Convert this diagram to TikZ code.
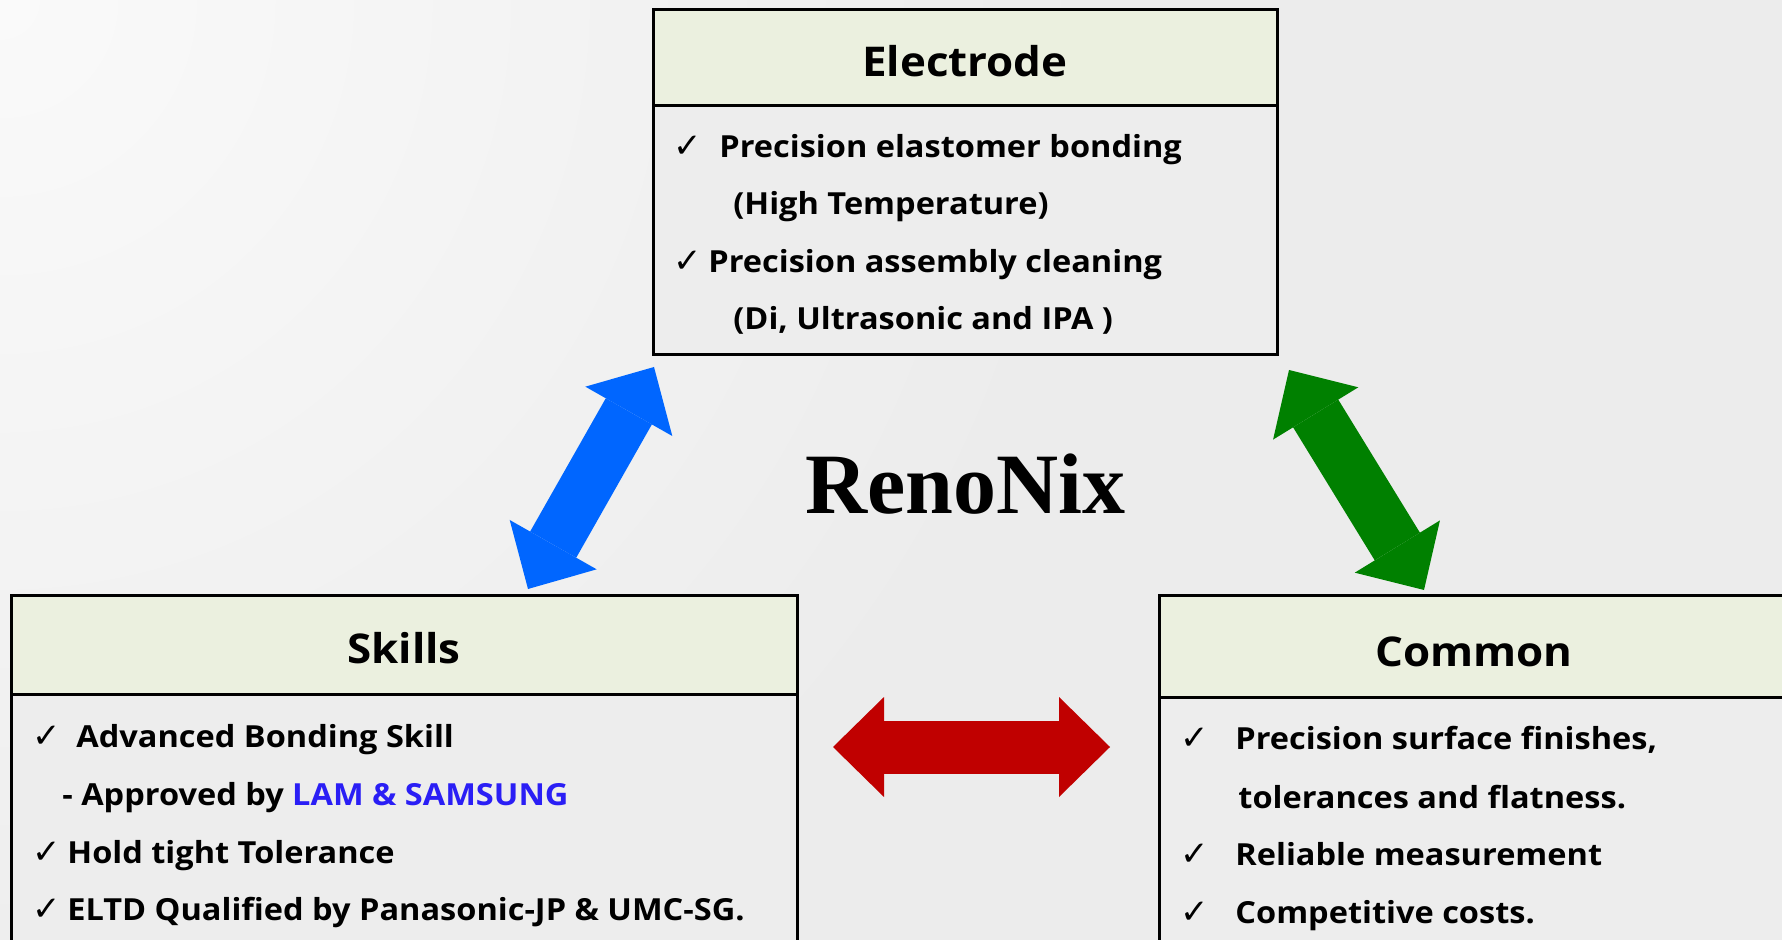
\documentclass[tikz,border=0pt]{standalone}
\usepackage{fontspec}
\setmainfont{Open Sans}[FakeStretch=1.07]
\newfontfamily\symfont{DejaVu Sans}
\newfontfamily\serifbold{Liberation Serif}
\usetikzlibrary{arrows.meta}
\definecolor{bgcol}{HTML}{ECECEC}
\definecolor{bgtop}{HTML}{FAFAFA}
\definecolor{headfill}{HTML}{EBF0DF}
\definecolor{bodyfill}{HTML}{EDEDED}
\definecolor{arrowblue}{HTML}{0066FF}
\definecolor{arrowgreen}{HTML}{008000}
\definecolor{arrowred}{HTML}{C00000}
\definecolor{lamblue}{HTML}{2A1EF5}
\newcommand\titlefnt{\fontsize{20.5pt}{24pt}\selectfont\bfseries}
\newcommand\itemfnt{\fontsize{15.2pt}{18pt}\selectfont\bfseries}
\newcommand\chkfnt{\fontsize{17pt}{20pt}\selectfont\symfont}
\tikzset{
  boxhead/.style={draw=black, line width=1.5pt, fill=headfill, anchor=north west, inner sep=0pt, outer sep=0pt},
  boxbody/.style={draw=black, line width=1.5pt, fill=bodyfill, anchor=north west, inner sep=0pt, outer sep=0pt},
  boxtitle/.style={anchor=base, inner sep=0pt, font=\titlefnt},
  itemtext/.style={anchor=base west, inner sep=0pt, font=\itemfnt},
  chk/.style={anchor=base west, inner sep=0pt, font=\chkfnt},
  fatarrow/.style={line width=26.5pt, line cap=butt,
    arrows={Triangle[length=25.5pt,width=50pt,line width=0pt]-Triangle[length=25.5pt,width=50pt,line width=0pt]}}
}
\begin{document}
\begin{tikzpicture}[x=0.5pt,y=-0.5pt]
\useasboundingbox (0,0) rectangle (1782,940);
\clip (0,0) rectangle (1782,940);
% background
\fill[bgcol] (0,0) rectangle (1782,940);
\shade[inner color=bgtop, outer color=bgcol] (0,0) circle [radius=1100];

% Electrode box
\node[boxhead, minimum width=312pt, minimum height=48pt] (ehead) at (653,10) {};
\node[boxbody, minimum width=312pt, minimum height=124.5pt] (ebody) at (653,106) {};
\node[boxtitle] (etitle) at (965,77) {Electrode};
\node[chk] (ec1) at (673,158) {✓};
\node[itemtext] (et1) at (719,158) {Precision elastomer bonding};
\node[itemtext] (et2) at (733,215) {(High Temperature)};
\node[chk] (ec2) at (673,273) {✓};
\node[itemtext] (et3) at (708,273) {Precision assembly cleaning};
\node[itemtext] (et4) at (733,330) {(Di, Ultrasonic and IPA )};

% Skills box
\node[boxhead, minimum width=393pt, minimum height=49.5pt] (shead) at (11,595) {};
\node[boxbody, minimum width=393pt, minimum height=140pt] (sbody) at (11,694) {};
\node[boxtitle] (stitle) at (404,663) {Skills};
\node[chk] (sc1) at (32,747) {✓};
\node[itemtext] (st1) at (76,747) {Advanced Bonding Skill};
\node[itemtext] (st2) at (62,805) {- Approved by \textcolor{lamblue}{LAM \& SAMSUNG}};
\node[chk] (sc2) at (32,863) {✓};
\node[itemtext] (st3) at (67,863) {Hold tight Tolerance};
\node[chk] (sc3) at (32,920) {✓};
\node[itemtext] (st4) at (67,920) {ELTD Qualified by Panasonic-JP \& UMC-SG.};

% Common box
\node[boxhead, minimum width=318pt, minimum height=51pt] (chead) at (1159,595) {};
\node[boxbody, minimum width=318pt, minimum height=140pt] (cbody) at (1159,697) {};
\node[boxtitle] (ctitle) at (1474,666) {Common};
\node[chk] (cc1) at (1180,749) {✓};
\node[itemtext] (ct1) at (1235,749) {Precision surface finishes,};
\node[itemtext] (ct2) at (1238,808) {tolerances and flatness.};
\node[chk] (cc2) at (1180,865) {✓};
\node[itemtext] (ct3) at (1235,865) {Reliable measurement};
\node[chk] (cc3) at (1180,923) {✓};
\node[itemtext] (ct4) at (1235,923) {Competitive costs.};

% center label
\node[anchor=base west, inner sep=0pt, font=\fontsize{43pt}{50pt}\selectfont\serifbold\bfseries] (reno) at (805,514) {RenoNix};

% arrows
\coordinate (blueS) at (528,589);
\coordinate (blueE) at (654,367);
\coordinate (greenS) at (1289,370);
\coordinate (greenE) at (1424,590);
\coordinate (redS) at (833,747);
\coordinate (redE) at (1110,747);
\draw[fatarrow, color=arrowblue] (blueS) -- (blueE);
\draw[fatarrow, color=arrowgreen] (greenS) -- (greenE);
\draw[fatarrow, color=arrowred] (redS) -- (redE);
\end{tikzpicture}
\end{document}
